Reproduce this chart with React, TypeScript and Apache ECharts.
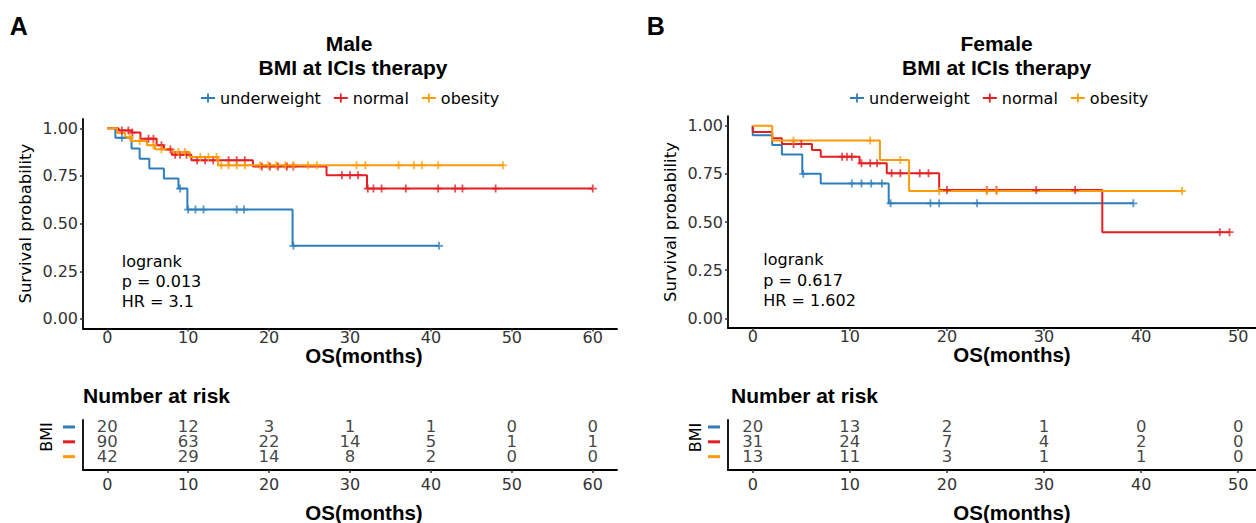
import { useEffect, useRef } from "react";
import * as echarts from "echarts";

// ---------- data ----------
const GROUPS = ["underweight", "normal", "obesity"];
const COLORS = ["#2E7EBE", "#E41F22", "#FD9B0B"];

// Male: Kaplan-Meier step points [months, survival]
const maleUnderweightSteps = [[0, 1], [1.0, 0.95], [3.0, 0.894], [4.0, 0.84], [5.2, 0.789], [7.0, 0.737], [8.8, 0.684], [9.9, 0.574], [22.9, 0.384], [41.0, 0.384]];
const maleUnderweightCensor = [1.8, 9.0, 10.0, 10.9, 11.9, 16.0, 16.9, 23.0, 41.0];
const maleNormalSteps = [[0, 1], [1.4, 0.989], [3.0, 0.978], [4.1, 0.946], [6.1, 0.911], [7.0, 0.889], [8.0, 0.862], [10.4, 0.832], [18.0, 0.8], [27.1, 0.754], [32.1, 0.684], [60.0, 0.684]];
const maleNormalCensor = [1.8, 2.6, 3.1, 5.1, 5.7, 6.7, 7.8, 8.4, 9.0, 9.8, 11.1, 12.1, 13.1, 15.0, 16.0, 17.0, 19.1, 20.1, 21.1, 22.2, 23.0, 29.0, 30.0, 31.0, 32.2, 32.9, 33.9, 36.9, 40.9, 43.0, 43.9, 48.0, 60.0];
const maleObesitySteps = [[0, 1], [1.2, 0.976], [2.2, 0.953], [3.0, 0.934], [4.9, 0.911], [5.9, 0.89], [8.0, 0.876], [10.2, 0.85], [13.7, 0.806], [48.9, 0.806]];
const maleObesityCensor = [2.8, 4.0, 5.7, 6.7, 8.8, 9.6, 11.5, 12.5, 13.5, 14.1, 15.0, 16.0, 17.0, 18.9, 19.9, 20.9, 22.0, 23.0, 24.8, 25.9, 30.8, 31.9, 36.0, 37.9, 38.9, 40.9, 48.9];

// Female
const femaleUnderweightSteps = [[0, 1], [0, 0.95], [2.0, 0.9], [3.0, 0.85], [5.1, 0.75], [7.0, 0.7], [14.0, 0.597], [39.2, 0.597]];
const femaleUnderweightCensor = [5.2, 10.2, 11.2, 12.2, 13.3, 14.2, 18.3, 19.2, 23.1, 39.2];
const femaleNormalSteps = [[0, 1], [0, 0.968], [2.0, 0.935], [3.0, 0.905], [6.1, 0.874], [7.0, 0.839], [11.0, 0.805], [13.8, 0.753], [19.2, 0.666], [36.0, 0.447], [49.1, 0.447]];
const femaleNormalCensor = [4.2, 5.0, 9.2, 9.7, 10.2, 11.2, 12.1, 12.8, 14.3, 15.2, 17.2, 18.1, 20.0, 24.1, 25.1, 29.2, 33.2, 48.1, 49.1];
const femaleObesitySteps = [[0, 1], [2.0, 0.923], [13.1, 0.822], [16.1, 0.661], [44.2, 0.661]];
const femaleObesityCensor = [4.2, 12.1, 15.2, 19.2, 24.1, 25.1, 44.2];

// Number at risk
const maleRiskTimes = [0, 10, 20, 30, 40, 50, 60];
const maleRiskUnderweight = [20, 12, 3, 1, 1, 0, 0];
const maleRiskNormal = [90, 63, 22, 14, 5, 1, 1];
const maleRiskObesity = [42, 29, 14, 8, 2, 0, 0];
const femaleRiskTimes = [0, 10, 20, 30, 40, 50];
const femaleRiskUnderweight = [20, 13, 2, 1, 0, 0];
const femaleRiskNormal = [31, 24, 7, 4, 2, 0];
const femaleRiskObesity = [13, 11, 3, 1, 1, 0];

// Tick labels
const maleTicks = [0, 10, 20, 30, 40, 50, 60];
const femaleTicks = [0, 10, 20, 30, 40, 50];
const survTicks = [0, 0.25, 0.5, 0.75, 1];

// Texts
const maleTitle = ["Male", "BMI at ICIs therapy"];
const femaleTitle = ["Female", "BMI at ICIs therapy"];
const maleStats = ["logrank", "p = 0.013", "HR = 3.1"];
const femaleStats = ["logrank", "p = 0.617", "HR = 1.602"];

// ---------- styling ----------
const REG = "'DejaVu Sans', sans-serif";
const BOLD = "'Liberation Sans', Arial, sans-serif";
const PLUS = "path://M3.9,0H6.1V3.9H10V6.1H6.1V10H3.9V6.1H0V3.9H3.9Z";
const LEGEND_ICON = "path://M0,4.1H14V5.9H0Z M6.1,0.5H7.9V9.5H6.1Z";

function survAt(steps: number[][], t: number) {
  let s = steps[0][1];
  for (const [x, y] of steps) {
    if (x <= t) s = y;
    else break;
  }
  return s;
}

function textEl(text: string, x: number, y: number, font: string, align = "center", rotation = 0) {
  return {
    type: "text",
    x,
    y,
    rotation,
    silent: true,
    style: {
      text,
      font,
      fill: "#000",
      align,
      verticalAlign: "middle",
      textAlign: align,
      textVerticalAlign: "middle",
    },
  };
}

function buildOption() {
  const panels = [
    {
      plot: { left: 83, top: 118.8, width: 534, height: 209.7 },
      table: { left: 83, top: 420, width: 534, height: 50 },
      xMin: -3,
      xMax: 63,
      ticks: maleTicks,
      steps: [maleUnderweightSteps, maleNormalSteps, maleObesitySteps],
      censors: [maleUnderweightCensor, maleNormalCensor, maleObesityCensor],
      riskTimes: maleRiskTimes,
      risk: [maleRiskUnderweight, maleRiskNormal, maleRiskObesity],
      legendLeft: 201,
    },
    {
      plot: { left: 728, top: 116.1, width: 528, height: 211.8 },
      table: { left: 728, top: 420, width: 528, height: 50 },
      xMin: -2.55,
      xMax: 51.83,
      ticks: femaleTicks,
      steps: [femaleUnderweightSteps, femaleNormalSteps, femaleObesitySteps],
      censors: [femaleUnderweightCensor, femaleNormalCensor, femaleObesityCensor],
      riskTimes: femaleRiskTimes,
      risk: [femaleRiskUnderweight, femaleRiskNormal, femaleRiskObesity],
      legendLeft: 850,
    },
  ];

  const axisLine = { show: true, onZero: false, lineStyle: { color: "#000", width: 1.8 } };
  const grid: any[] = [];
  const xAxis: any[] = [];
  const yAxis: any[] = [];
  const series: any[] = [];

  panels.forEach((p, pi) => {
    grid[pi] = { ...p.plot, containLabel: false, outerBoundsMode: "none" };
    grid[2 + pi] = { ...p.table, containLabel: false, outerBoundsMode: "none" };

    xAxis[pi] = {
      gridIndex: pi,
      type: "value",
      min: p.xMin,
      max: p.xMax,
      axisLine,
      axisTick: { show: true, length: 3, customValues: p.ticks, lineStyle: { color: "#333", width: 1.5 } },
      axisLabel: { customValues: p.ticks, margin: 1, fontFamily: REG, fontSize: 16, color: "#333" },
      splitLine: { show: false },
    };
    yAxis[pi] = {
      gridIndex: pi,
      type: "value",
      min: -0.05,
      max: 1.05,
      axisLine,
      axisTick: { show: true, length: 3, customValues: survTicks, lineStyle: { color: "#333", width: 1.5 } },
      axisLabel: {
        customValues: survTicks,
        margin: 5,
        fontFamily: REG,
        fontSize: 16,
        color: "#333",
        formatter: (v: number) => v.toFixed(2),
      },
      splitLine: { show: false },
      name: "Survival probability",
      nameLocation: "middle",
      nameRotate: 90,
      nameGap: 49,
      nameTextStyle: { fontFamily: REG, fontSize: 16.5, color: "#000" },
    };
    xAxis[2 + pi] = {
      gridIndex: 2 + pi,
      type: "value",
      min: p.xMin,
      max: p.xMax,
      axisLine,
      axisTick: { show: true, length: 3, customValues: p.ticks, lineStyle: { color: "#333", width: 1.5 } },
      axisLabel: { customValues: p.ticks, margin: 6, fontFamily: REG, fontSize: 16, color: "#333" },
      splitLine: { show: false },
    };
    yAxis[2 + pi] = {
      gridIndex: 2 + pi,
      type: "value",
      min: 0.1,
      max: 3.47,
      axisLine,
      axisTick: { show: false },
      axisLabel: {
        customValues: [1, 2, 3],
        margin: 8,
        formatter: (v: number) => (v === 3 ? "{g0| }" : v === 2 ? "{g1| }" : "{g2| }"),
        rich: {
          g0: { width: 12, height: 3, fontSize: 1, lineHeight: 3, backgroundColor: COLORS[0] },
          g1: { width: 12, height: 3, fontSize: 1, lineHeight: 3, backgroundColor: COLORS[1] },
          g2: { width: 12, height: 3, fontSize: 1, lineHeight: 3, backgroundColor: COLORS[2] },
        },
      },
      splitLine: { show: false },
    };

    // KM lines
    p.steps.forEach((st, gi) => {
      series.push({
        type: "line",
        name: GROUPS[gi],
        xAxisIndex: pi,
        yAxisIndex: pi,
        data: st,
        step: "end",
        showSymbol: false,
        symbol: "none",
        lineStyle: { color: COLORS[gi], width: 2 },
        itemStyle: { color: COLORS[gi] },
        silent: true,
        z: 2,
      });
    });
    // censor marks
    p.steps.forEach((st, gi) => {
      series.push({
        type: "scatter",
        name: GROUPS[gi] + " censored",
        xAxisIndex: pi,
        yAxisIndex: pi,
        data: p.censors[gi].map((t) => [t, survAt(st, t)]),
        symbol: PLUS,
        symbolSize: 8,
        itemStyle: { color: COLORS[gi] },
        silent: true,
        z: 3,
      });
    });
    // risk table
    p.risk.forEach((counts, gi) => {
      series.push({
        type: "scatter",
        name: GROUPS[gi] + " at risk",
        xAxisIndex: 2 + pi,
        yAxisIndex: 2 + pi,
        data: p.riskTimes.map((t, j) => [t, 3 - gi, counts[j]]),
        symbolSize: 1,
        itemStyle: { color: "rgba(0,0,0,0)" },
        label: {
          show: true,
          position: "inside",
          formatter: (q: any) => String(q.value[2]),
          fontFamily: REG,
          fontSize: 16.5,
          lineHeight: 14,
          color: "#111",
        },
        silent: true,
        z: 5,
      });
    });
  });

  const legendBase = {
    data: GROUPS,
    top: 90,
    padding: 0,
    itemWidth: 14,
    itemHeight: 9,
    itemGap: 13,
    icon: LEGEND_ICON,
    selectedMode: false,
    textStyle: { fontFamily: REG, fontSize: 16, color: "#000" },
  };

  const graphicEls: any[] = [
    textEl("A", 18.8, 25.8, `bold 25px ${BOLD}`),
    textEl("B", 655.7, 25.8, `bold 25px ${BOLD}`),
    textEl(maleTitle[0], 349, 43.3, `bold 21px ${BOLD}`),
    textEl(maleTitle[1], 353, 67.5, `bold 21px ${BOLD}`),
    textEl(femaleTitle[0], 996.6, 43.3, `bold 21px ${BOLD}`),
    textEl(femaleTitle[1], 996.6, 67.5, `bold 21px ${BOLD}`),
    textEl(maleStats[0], 121.7, 261.5, `16px ${REG}`, "left"),
    textEl(maleStats[1], 121.7, 281.3, `16px ${REG}`, "left"),
    textEl(maleStats[2], 121.7, 301.2, `16px ${REG}`, "left"),
    textEl(femaleStats[0], 763.3, 259, `16px ${REG}`, "left"),
    textEl(femaleStats[1], 763.3, 280, `16px ${REG}`, "left"),
    textEl(femaleStats[2], 763.3, 300.5, `16px ${REG}`, "left"),
    textEl("OS(months)", 364, 355, `bold 20.5px ${BOLD}`),
    textEl("OS(months)", 1012, 354, `bold 20.5px ${BOLD}`),
    textEl("OS(months)", 364, 512, `bold 20.5px ${BOLD}`),
    textEl("OS(months)", 1012, 512, `bold 20.5px ${BOLD}`),
    textEl("Number at risk", 83, 395, `bold 21px ${BOLD}`, "left"),
    textEl("Number at risk", 731, 395, `bold 21px ${BOLD}`, "left"),
    textEl("BMI", 46.7, 437, `16px ${REG}`, "center", Math.PI / 2),
    textEl("BMI", 695, 437.5, `16px ${REG}`, "center", Math.PI / 2),
  ];

  return {
    animation: false,
    backgroundColor: "#fff",
    grid,
    xAxis,
    yAxis,
    series,
    legend: [
      { ...legendBase, left: panels[0].legendLeft },
      { ...legendBase, left: panels[1].legendLeft },
    ],
    graphic: { elements: graphicEls },
  };
}

export default function App() {
  const ref = useRef<HTMLDivElement>(null);
  useEffect(() => {
    document.body.style.margin = "0";
    const chart = echarts.init(ref.current!, null, { renderer: "svg" });
    chart.setOption(buildOption() as any);
    return () => chart.dispose();
  }, []);
  return <div ref={ref} style={{ width: 1256, height: 523, background: "#fff" }} />;
}
